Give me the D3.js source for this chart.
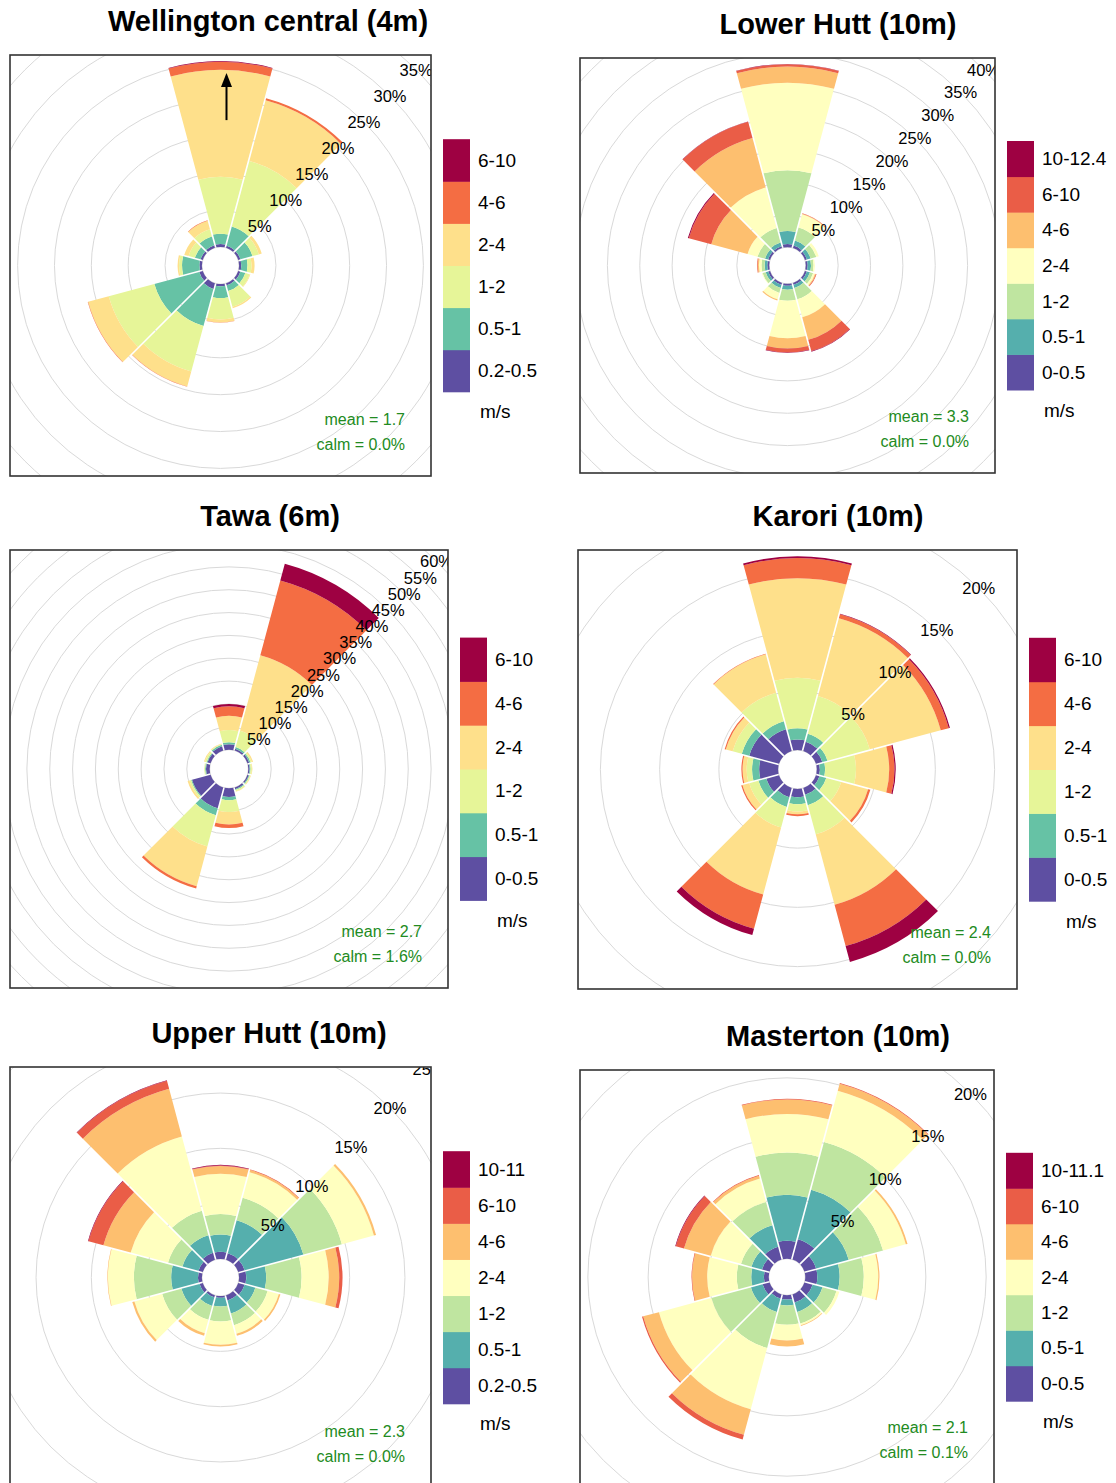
<!DOCTYPE html>
<html>
<head>
<meta charset="utf-8">
<script src="https://cdn.jsdelivr.net/npm/d3@7"></script>
<style>
  body { margin: 0; background: #ffffff; }
  svg text { font-family: "Liberation Sans", Arial, Helvetica, sans-serif; }
</style>
</head>
<body>
<svg id="chart" width="1116" height="1483"></svg>
<script>
// Wind direction sectors (30 degree bins, clockwise from north)
const sectors = ["N", "NNE", "ENE", "E", "ESE", "SSE", "S", "SSW", "WSW", "W", "WNW", "NNW"];
const sectorAngles = [0, 30, 60, 90, 120, 150, 180, 210, 240, 270, 300, 330];

// Station names
const stationTitles = [
  "Wellington central (4m)", "Lower Hutt (10m)", "Tawa (6m)",
  "Karori (10m)", "Upper Hutt (10m)", "Masterton (10m)"
];
const meanSpeeds = [1.7, 3.3, 2.7, 2.4, 2.3, 2.1];
const calmPercents = [0.0, 0.0, 1.6, 0.0, 0.0, 0.1];

// Speed intervals (m/s) used by each station
const wellingtonBands = ["0.2-0.5", "0.5-1", "1-2", "2-4", "4-6", "6-10"];
const lowerHuttBands = ["0-0.5", "0.5-1", "1-2", "2-4", "4-6", "6-10", "10-12.4"];
const tawaBands = ["0-0.5", "0.5-1", "1-2", "2-4", "4-6", "6-10"];
const karoriBands = ["0-0.5", "0.5-1", "1-2", "2-4", "4-6", "6-10"];
const upperHuttBands = ["0.2-0.5", "0.5-1", "1-2", "2-4", "4-6", "6-10", "10-11"];
const mastertonBands = ["0-0.5", "0.5-1", "1-2", "2-4", "4-6", "6-10", "10-11.1"];

// Cumulative frequency (%) at the outer edge of each speed interval, one row per sector
const wellingtonCum = [
  [0.4, 1.8, 9.5, 24.0, 25.1, 25.2],
  [0.3, 3.0, 12.2, 20.7, 21.0, 21.0],
  [0.3, 2.0, 2.9, 3.3, 3.3, 3.3],
  [0.3, 1.15, 1.7, 2.1, 2.1, 2.1],
  [0.3, 1.0, 1.6, 1.7, 1.7, 1.7],
  [0.3, 1.1, 3.3, 3.5, 3.5, 3.5],
  [0.3, 1.9, 4.8, 5.2, 5.25, 5.25],
  [0.8, 6.0, 12.4, 14.5, 14.55, 14.55],
  [0.5, 6.8, 13.2, 16.1, 16.15, 16.15],
  [0.35, 2.7, 3.1, 3.3, 3.3, 3.3],
  [0.3, 1.1, 2.0, 2.6, 2.6, 2.6],
  [0.35, 1.6, 2.6, 3.8, 3.85, 3.85]
];
const lowerHuttCum = [
  [0.5, 2.5, 11.9, 25.4, 27.9, 28.25, 28.3],
  [0.4, 1.2, 3.3, 5.4, 5.5, 5.55, 5.55],
  [0.3, 0.9, 1.8, 2.2, 2.2, 2.2, 2.2],
  [0.3, 0.8, 1.2, 1.4, 1.4, 1.4, 1.4],
  [0.3, 0.8, 1.3, 1.6, 1.75, 1.85, 1.85],
  [0.3, 0.8, 2.6, 5.5, 9.1, 10.9, 11.0],
  [0.3, 0.9, 2.6, 8.4, 10.0, 10.6, 10.7],
  [0.3, 0.8, 1.6, 2.6, 2.8, 2.8, 2.8],
  [0.3, 0.7, 1.2, 1.3, 1.3, 1.3, 1.3],
  [0.3, 0.7, 1.2, 1.6, 1.8, 1.9, 1.9],
  [0.3, 0.8, 2.0, 3.6, 9.4, 13.0, 13.15],
  [0.3, 0.9, 3.2, 9.7, 17.6, 20.2, 20.25]
];
const tawaCum = [
  [1.2, 1.6, 4.3, 7.4, 9.5, 10.0],
  [0.4, 0.8, 4.5, 21.6, 38.5, 42.3],
  [0.4, 0.7, 1.0, 1.3, 1.3, 1.3],
  [0.3, 0.5, 0.8, 0.9, 0.9, 0.9],
  [0.3, 0.5, 0.7, 0.8, 0.8, 0.8],
  [0.4, 0.6, 0.9, 1.0, 1.0, 1.0],
  [1.9, 2.6, 5.2, 7.9, 8.7, 8.7],
  [4.7, 6.3, 13.4, 22.4, 22.9, 22.9],
  [4.2, 4.4, 4.8, 5.2, 5.2, 5.2],
  [0.8, 1.0, 1.2, 1.2, 1.2, 1.2],
  [0.7, 0.9, 1.3, 1.5, 1.5, 1.5],
  [1.0, 1.3, 1.5, 1.6, 1.6, 1.6]
];
const karoriCum = [
  [0.9, 1.85, 6.1, 14.5, 16.2, 16.35],
  [0.8, 1.5, 4.8, 11.6, 11.95, 12.0],
  [0.55, 1.0, 4.7, 10.9, 11.6, 11.7],
  [0.25, 0.7, 3.3, 6.1, 6.55, 6.65],
  [0.3, 0.9, 2.2, 4.55, 4.75, 4.75],
  [0.6, 1.5, 4.05, 10.2, 13.8, 15.2],
  [0.7, 1.3, 1.9, 2.15, 2.3, 2.3],
  [0.8, 1.65, 3.45, 9.3, 12.3, 12.85],
  [1.1, 1.8, 2.6, 3.2, 3.3, 3.3],
  [1.6, 2.2, 2.65, 3.0, 3.1, 3.1],
  [2.6, 3.25, 4.05, 4.65, 4.75, 4.75],
  [1.9, 2.6, 5.1, 8.45, 8.5, 8.5]
];
const upperHuttCum = [
  [0.65, 2.2, 4.05, 7.7, 8.4, 8.45, 8.5],
  [0.6, 3.7, 5.8, 8.2, 8.4, 8.45, 8.45],
  [0.6, 6.1, 9.7, 12.7, 12.9, 12.9, 12.9],
  [0.65, 2.45, 5.65, 8.1, 9.05, 9.35, 9.35],
  [0.6, 1.6, 2.75, 3.8, 3.95, 3.95, 3.95],
  [0.5, 1.7, 2.8, 3.6, 3.8, 3.8, 3.8],
  [0.15, 0.95, 2.3, 4.4, 4.55, 4.55, 4.55],
  [0.2, 1.0, 2.3, 3.55, 3.8, 3.8, 3.8],
  [0.3, 2.0, 3.8, 6.4, 6.6, 6.6, 6.6],
  [0.35, 2.78, 6.15, 8.5, 8.55, 8.55, 8.55],
  [0.4, 1.9, 3.25, 6.75, 9.3, 10.7, 10.75],
  [0.65, 2.3, 4.6, 11.55, 16.0, 16.75, 16.8]
];
const mastertonCum = [
  [1.5, 5.3, 8.8, 12.0, 13.2, 13.25, 13.25],
  [1.75, 6.0, 10.1, 14.5, 15.1, 15.15, 15.15],
  [1.0, 3.8, 6.75, 8.7, 8.85, 8.85, 8.85],
  [1.0, 2.85, 4.85, 6.05, 6.15, 6.15, 6.15],
  [0.7, 1.55, 2.75, 3.0, 3.0, 3.0, 3.0],
  [0.7, 1.5, 2.5, 2.65, 2.7, 2.7, 2.7],
  [0.35, 0.85, 2.45, 3.75, 4.25, 4.25, 4.25],
  [0.35, 1.5, 4.6, 9.85, 12.05, 12.45, 12.45],
  [0.6, 1.6, 5.0, 9.5, 10.85, 10.95, 10.95],
  [0.4, 1.45, 2.65, 5.1, 6.35, 6.4, 6.4],
  [0.65, 1.55, 2.45, 5.05, 7.35, 8.05, 8.1],
  [1.1, 2.95, 4.95, 6.95, 7.2, 7.25, 7.25]
];

// Grid interval (%) for the radial axis
const gridStep = 5;

// Panel placement: plot box [x, y, size] and title anchor
const panels = [
  { bands: wellingtonBands, cum: wellingtonCum, box: [10, 55, 421], title: [268, 31], arrow: true },
  { bands: lowerHuttBands, cum: lowerHuttCum, box: [580, 58, 415], title: [838, 34] },
  { bands: tawaBands, cum: tawaCum, box: [10, 550, 438], title: [270, 526] },
  { bands: karoriBands, cum: karoriCum, box: [578, 550, 439], title: [838, 526] },
  { bands: upperHuttBands, cum: upperHuttCum, box: [10, 1067, 421], title: [269, 1043] },
  { bands: mastertonBands, cum: mastertonCum, box: [580, 1070, 414], title: [838, 1046] }
];

// Reversed ColorBrewer "Spectral" ramp, sampled to the number of intervals
const spectral = ["#5E4FA2", "#3288BD", "#66C2A5", "#ABDDA4", "#E6F598", "#FFFFBF",
                  "#FEE08B", "#FDAE61", "#F46D43", "#D53E4F", "#9E0142"];
const ramp = d3.piecewise(d3.interpolateRgb, spectral);
const speedColours = n => d3.range(n).map(i => ramp(i / (n - 1)));

const svg = d3.select("#chart");
const deg = Math.PI / 180;

panels.forEach((p, idx) => {
  const [bx, by, size] = p.box;
  const cx = bx + size / 2, cy = by + size / 2;
  const colours = speedColours(p.bands.length);
  const maxFreq = d3.max(p.cum, row => row[row.length - 1]);
  const offset = maxFreq * 0.1;          // central hole, 10% of the axis
  const outer = size / 2 / 1.03;         // radius reached by the largest total
  const r = d3.scaleLinear().domain([-offset, maxFreq]).range([0, outer]);
  const axisMax = 2 * maxFreq;

  const g = svg.append("g");
  const clipId = "clip" + idx;
  g.append("clipPath").attr("id", clipId)
    .append("rect").attr("x", bx).attr("y", by).attr("width", size).attr("height", size);

  const plot = g.append("g").attr("clip-path", `url(#${clipId})`);

  // Concentric grid circles
  plot.append("g").selectAll("circle")
    .data(d3.range(0, axisMax + 1e-9, gridStep))
    .join("circle")
    .attr("cx", cx).attr("cy", cy)
    .attr("r", d => r(d))
    .attr("fill", "none")
    .attr("stroke", "#d9d9d9")
    .attr("stroke-width", 1);

  // Stacked wedges: one arc per sector and speed interval
  const arc = d3.arc().padAngle(0.016).padRadius(100);
  const segs = [];
  p.cum.forEach((row, si) => {
    row.forEach((v, bi) => {
      const lo = bi === 0 ? 0 : row[bi - 1];
      if (v > lo) segs.push({ si, bi, lo, hi: v });
    });
  });
  plot.append("g").attr("transform", `translate(${cx},${cy})`)
    .selectAll("path")
    .data(segs)
    .join("path")
    .attr("d", d => arc({
      innerRadius: r(d.lo),
      outerRadius: r(d.hi),
      startAngle: (sectorAngles[d.si] - 15) * deg,
      endAngle: (sectorAngles[d.si] + 15) * deg
    }))
    .attr("fill", d => colours[d.bi]);

  // Percentage labels along the 45 degree line (only those centred inside the frame)
  const labelPos = d => [cx + r(d) * Math.sin(45 * deg), cy - r(d) * Math.cos(45 * deg)];
  const labelValues = d3.range(gridStep, axisMax + 1e-9, gridStep).filter(d => {
    const [x, y] = labelPos(d);
    return x < bx + size && y > by;
  });
  plot.append("g").selectAll("text")
    .data(labelValues)
    .join("text")
    .attr("x", d => labelPos(d)[0])
    .attr("y", d => labelPos(d)[1])
    .attr("text-anchor", "middle")
    .attr("dominant-baseline", "central")
    .attr("font-size", 16.5)
    .attr("fill", "#000")
    .text(d => d + "%");

  // North arrow annotation
  if (p.arrow) {
    const ax = cx + 6;
    const yTail = cy - r(17.2), yTip = cy - r(23.6);
    plot.append("line")
      .attr("x1", ax).attr("x2", ax).attr("y1", yTail).attr("y2", yTip + 10)
      .attr("stroke", "#000").attr("stroke-width", 2);
    plot.append("path")
      .attr("d", `M${ax},${yTip} L${ax - 5.5},${yTip + 14} L${ax + 5.5},${yTip + 14} Z`)
      .attr("fill", "#000");
  }

  // Mean speed and calm summary
  g.append("text")
    .attr("x", bx + size - 26).attr("y", by + size - 51)
    .attr("text-anchor", "end").attr("font-size", 16).attr("fill", "#228B22")
    .text(`mean = ${meanSpeeds[idx].toFixed(1)}`);
  g.append("text")
    .attr("x", bx + size - 26).attr("y", by + size - 26)
    .attr("text-anchor", "end").attr("font-size", 16).attr("fill", "#228B22")
    .text(`calm = ${calmPercents[idx].toFixed(1)}%`);

  // Plot frame
  g.append("rect")
    .attr("x", bx).attr("y", by).attr("width", size).attr("height", size)
    .attr("fill", "none").attr("stroke", "#333").attr("stroke-width", 1.6);

  // Title
  g.append("text")
    .attr("x", p.title[0]).attr("y", p.title[1])
    .attr("text-anchor", "middle")
    .attr("font-size", 29).attr("font-weight", "bold").attr("fill", "#000")
    .text(stationTitles[idx]);

  // Colour key
  const n = p.bands.length;
  const keyH = size * 0.6, keyW = 27;
  const kx = bx + size + 12, ky = cy - keyH / 2;
  const cellH = keyH / n;
  const key = g.append("g");
  key.selectAll("rect")
    .data(p.bands)
    .join("rect")
    .attr("x", kx)
    .attr("y", (d, i) => ky + (n - 1 - i) * cellH)
    .attr("width", keyW)
    .attr("height", cellH + 0.5)
    .attr("fill", (d, i) => colours[i]);
  key.selectAll("text.band")
    .data(p.bands)
    .join("text")
    .attr("class", "band")
    .attr("x", kx + keyW + 8)
    .attr("y", (d, i) => ky + (n - 1 - i + 0.5) * cellH)
    .attr("dominant-baseline", "central")
    .attr("font-size", 19)
    .attr("fill", "#000")
    .text(d => d);
  key.append("text")
    .attr("x", kx + keyW + 10)
    .attr("y", ky + keyH + 20)
    .attr("dominant-baseline", "central")
    .attr("font-size", 19)
    .attr("fill", "#000")
    .text("m/s");
});
</script>
</body>
</html>
